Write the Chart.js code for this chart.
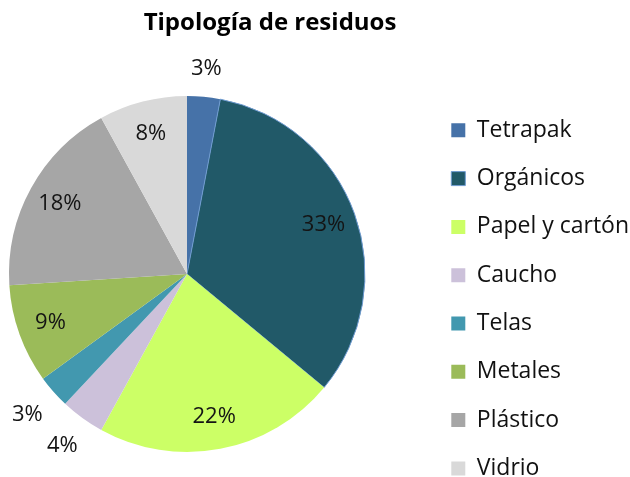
<!DOCTYPE html>
<html>
<head>
<meta charset="utf-8">
<script src="https://cdn.jsdelivr.net/npm/chart.js@4"></script>
<style>
  html, body { margin: 0; padding: 0; background: #ffffff; overflow: hidden; }
  #wrap { width: 630px; height: 477px; position: relative; }
</style>
</head>
<body>
<div id="wrap"><canvas id="c" width="630" height="477"></canvas></div>
<script>
const chartTitle = 'Tipología de residuos';
const categories = ['Tetrapak', 'Orgánicos', 'Papel y cartón', 'Caucho', 'Telas', 'Metales', 'Plástico', 'Vidrio'];
const percentages = [3, 33, 22, 4, 3, 9, 18, 8];
const sliceColors = ['#4672A8', '#215968', '#CCFF66', '#CCC1DA', '#4298AF', '#9BBB59', '#A6A6A6', '#D9D9D9'];
const sliceBorderWidths = [0, 1, 0, 0, 0, 0, 0, 0];
const sliceBorderColors = ['#4672A8', '#6F9BD1', '#CCFF66', '#CCC1DA', '#4298AF', '#9BBB59', '#A6A6A6', '#D9D9D9'];

const FONT = "'Open Sans', 'DejaVu Sans', sans-serif";

// Place the blocks where the reference has them
const placement = {
  id: 'placement',
  afterLayout(chart) {
    chart.chartArea = { left: 9, top: 96, right: 365, bottom: 452, width: 356, height: 356 };
    const lg = chart.legend;
    if (lg) {
      const w = lg.width;
      lg.left = 426; lg.right = 426 + w;
      lg.top = 93.5; lg.bottom = 700; lg.height = 606.5;
    }
    const tb = chart.titleBlock;
    if (tb) { tb.left = 0; tb.right = 540; tb.width = 540; }
  }
};

// Percentage labels on / beside the slices
const sliceLabels = {
  id: 'sliceLabels',
  afterDatasetsDraw(chart) {
    const ctx = chart.ctx;
    const meta = chart.getDatasetMeta(0);
    const vals = chart.data.datasets[0].data;
    ctx.save();
    ctx.font = "22px " + FONT;
    ctx.fillStyle = '#141414';
    ctx.textAlign = 'center';
    ctx.textBaseline = 'middle';
    meta.data.forEach((arc, i) => {
      const p = arc.getProps(['x', 'y', 'startAngle', 'endAngle', 'outerRadius'], true);
      const mid = (p.startAngle + p.endAngle) / 2;
      const txt = vals[i] + '%';
      const halfW = ctx.measureText(txt).width / 2;
      const halfH = 11;
      let r;
      if (vals[i] < 5) {
        r = p.outerRadius + 16 + halfW * Math.abs(Math.cos(mid)) + halfH * Math.abs(Math.sin(mid));
      } else {
        r = p.outerRadius * 0.815;
      }
      ctx.fillText(txt, p.x + r * Math.cos(mid), p.y + r * Math.sin(mid));
    });
    ctx.restore();
  }
};

new Chart(document.getElementById('c'), {
  type: 'pie',
  data: {
    labels: categories,
    datasets: [{
      data: percentages,
      backgroundColor: sliceColors,
      borderColor: sliceBorderColors,
      borderWidth: sliceBorderWidths,
      hoverOffset: 0,
      offset: 0
    }]
  },
  options: {
    responsive: false,
    animation: false,
    events: [],
    radius: 178,
    layout: { padding: 0 },
    plugins: {
      title: {
        display: true,
        text: chartTitle,
        color: '#000000',
        font: { family: FONT, size: 24, weight: 'bold' },
        padding: { top: 9, bottom: 10 }
      },
      legend: {
        display: true,
        position: 'right',
        align: 'start',
        labels: {
          color: '#111111',
          font: { family: FONT, size: 23 },
          boxWidth: 14,
          boxHeight: 14,
          padding: 25.3
        }
      },
      tooltip: { enabled: false }
    }
  },
  plugins: [placement, sliceLabels]
});
</script>
</body>
</html>
